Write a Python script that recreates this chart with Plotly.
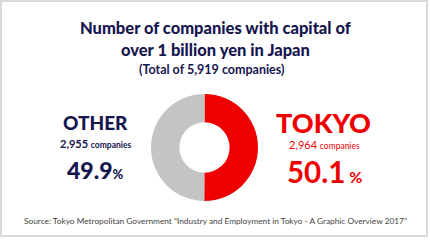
import plotly.graph_objects as go

W, H = 430, 241

regions = ["TOKYO", "OTHER"]
companies = [2964, 2955]
colors = ["#ee0000", "#c4c4c4"]
title_lines = ["Number of companies with capital of", "over 1 billion yen in Japan"]
source = "Source: Tokyo Metropolitan Government \u201cIndustry and Employment in Tokyo - A Graphic Overview 2017\u201d"

total = sum(companies)
pcts = [100 * c / total for c in companies]

NAVY = "#16164f"
RED = "#ee0000"
FONT = "Lato"

def px(x):
    return x / W

def py(y):
    return 1 - y / H

fig = go.Figure(go.Pie(
    labels=regions, values=companies, sort=False, direction="clockwise",
    rotation=0, hole=0.47, marker=dict(colors=colors, line=dict(width=0)),
    textinfo="none", hoverinfo="label+value+percent", showlegend=False,
    domain=dict(x=[px(151), px(258)], y=[py(201), py(94)]),
))

ann = []
def add(text, x, y, size, color, weight=400, xanchor="center"):
    ann.append(dict(text=text, x=px(x), y=py(y), xref="paper", yref="paper",
                    showarrow=False, xanchor=xanchor, yanchor="middle",
                    font=dict(family=FONT, size=size, color=color, weight=weight)))

add(title_lines[0], 215, 28, 16.5, NAVY, 900)
add(title_lines[1], 215, 50, 16.5, NAVY, 900)
add(f"(Total of {total:,} companies)", 211, 69, 12.5, NAVY, 700)

# OTHER (left)
add(regions[1], 95, 123, 19, NAVY, 900)
add(f"{companies[1]:,} <span style='font-size:8.5px'>companies</span>", 95, 143, 11, NAVY, 700)
add(f"{pcts[1]:.1f}<span style='font-size:13px'>%</span>", 95, 170, 23, NAVY, 900)

# TOKYO (right)
add(regions[0], 323.5, 123, 27, RED, 900)
add(f"{companies[0]:,} <span style='font-size:8.5px'>companies</span>", 324, 144, 11, RED, 400)
add(f"{pcts[0]:.1f}<span style='font-size:16px'> %</span>", 324.5, 171, 29.5, RED, 700)

add(source, 215, 221, 8.3, "#444444", 400)

fig.update_layout(
    width=W, height=H, margin=dict(l=0, r=0, t=0, b=0),
    paper_bgcolor="white", plot_bgcolor="white",
    annotations=ann,
    shapes=[dict(type="rect", xref="paper", yref="paper",
                 x0=px(1), x1=px(427), y0=py(236), y1=py(1),
                 line=dict(color="#d9d9d9", width=2), fillcolor="rgba(0,0,0,0)")],
)

fig.write_html("out.html")
